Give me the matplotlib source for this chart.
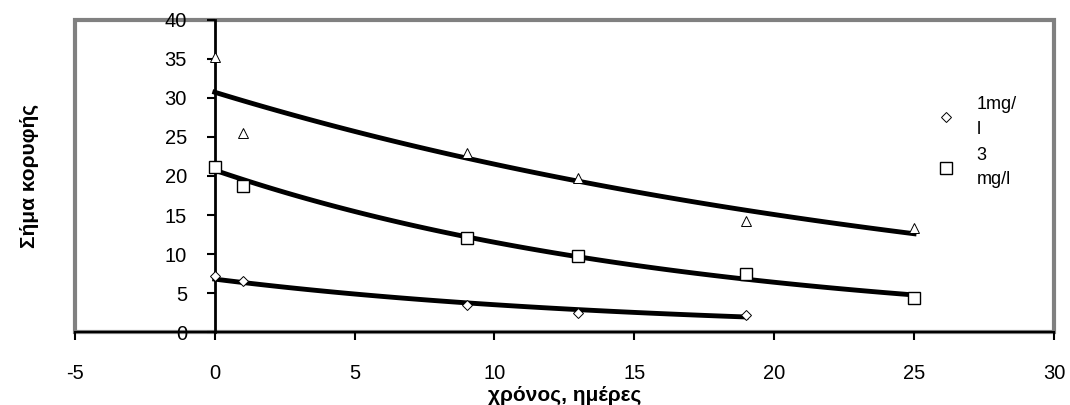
import matplotlib.pyplot as plt
import numpy as np
from matplotlib.patches import Rectangle

plt.rcParams['font.family'] = ['Liberation Sans', 'DejaVu Sans']
plt.rcParams['axes.unicode_minus'] = False

# data
days_1 = [0, 1, 9, 13, 19]
peak_1 = [7.2, 6.5, 3.5, 2.5, 2.2]
days_3 = [0, 1, 9, 13, 19, 25]
peak_3 = [21.2, 18.7, 12.0, 9.8, 7.5, 4.4]
days_t = [0, 1, 9, 13, 19, 25]
peak_t = [35.2, 25.5, 23.0, 19.8, 14.2, 13.3]
labels = ['1mg/\nl', '3\nmg/l']

fig = plt.figure(figsize=(10.7, 4.05), dpi=100)
ax = fig.add_axes([0.070, 0.180, 0.915, 0.771])

def exp_trend(x, y):
    # excel-style exponential trendline (fit on ln y)
    b, a = np.polyfit(x, np.log(y), 1)
    xs = np.linspace(min(x), max(x), 100)
    return xs, np.exp(a) * np.exp(b * xs)

for x, y in [(days_t, peak_t), (days_3, peak_3), (days_1, peak_1)]:
    xs, ys = exp_trend(x, y)
    ax.plot(xs, ys, color='black', lw=3.5, zorder=2)

ax.plot(days_1, peak_1, 'D', ms=5.5, mfc='white', mec='black', mew=0.7, ls='none', label=labels[0], zorder=3)
ax.plot(days_3, peak_3, 's', ms=8, mfc='white', mec='black', mew=1, ls='none', label=labels[1], zorder=3)
ax.plot(days_t, peak_t, '^', ms=7.5, mfc='white', mec='black', mew=0.7, ls='none', zorder=3)

ax.set_xlim(-5, 30)
ax.set_ylim(0, 40)
ax.set_xticks(range(-5, 31, 5))
ax.set_yticks(range(0, 41, 5))

for s in ['top', 'right']:
    ax.spines[s].set_visible(False)
ax.spines['left'].set_position(('data', 0))
ax.spines['left'].set_linewidth(2)
ax.spines['bottom'].set_linewidth(1.5)
ax.add_patch(Rectangle((0, 0), 1, 1, transform=ax.transAxes, fill=False,
                       edgecolor='#808080', lw=3, zorder=0, clip_on=False))

ax.tick_params(axis='y', direction='out', length=6, width=1.5, labelsize=14.5, pad=14)
ax.tick_params(axis='x', direction='out', length=6, width=1.5, labelsize=14.5, pad=17)

ax.set_xlabel('χρόνος, ημέρες', fontsize=15, fontweight='bold', labelpad=2)
ax.set_ylabel('Σήμα κορυφής', fontsize=15, fontweight='bold')
ax.yaxis.set_label_coords(-0.037, 0.5)

ax.legend(loc='upper left', bbox_to_anchor=(0.873, 0.78), frameon=False,
          fontsize=13, handletextpad=1.2, labelspacing=0.5, handlelength=1,
          borderaxespad=0)
for t in ax.get_legend().get_texts():
    t.set_linespacing(1.6)

plt.savefig('out.png', dpi=100)
